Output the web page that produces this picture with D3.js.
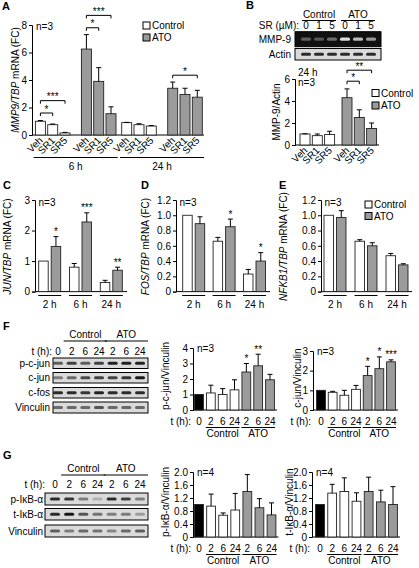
<!DOCTYPE html>
<html><head><meta charset="utf-8">
<script src="https://cdn.jsdelivr.net/npm/d3@7"></script>
<style>body{margin:0;background:#fff} svg text{font-family:"Liberation Sans",Arial,Helvetica,sans-serif;}</style>
</head><body>
<svg id="chart" width="419" height="568"></svg>
<script>
// ================= DATA =================
// Panel A
const aDrugs = ["Veh","SR1","SR5"];
const aTimes = ["6 h","24 h"];
const aTreats = ["Control","ATO"];
const aControl = [[1.0,0.75,0.15],[0.9,0.75,0.65]];
const aControlErr = [[0.05,0.05,0.04],[0.02,0.07,0.04]];
const aATO = [[6.25,3.9,1.55],[3.4,2.95,2.75]];
const aATOErr = [[1.05,1.0,0.5],[0.45,0.45,0.5]];
const aTicks = [0,2,4,6,8];
// [timeIndex, treatment, fromDrug, toDrug, height, label]
const aSig = [[0,"Control",0,1,1.6,"*"],[0,"Control",0,2,2.5,"***"],[0,"ATO",0,1,7.8,"*"],[0,"ATO",0,2,8.7,"***"],[1,"ATO",0,2,4.35,"*"]];
// Panel B
const bDrugs = ["Veh","SR1","SR5"];
const bTreats = ["Control","ATO"];
const bLaneLabels = ["0","1","5","0","1","5"];
const bControl = [1.0,0.85,0.95];
const bControlErr = [0.02,0.15,0.3];
const bATO = [4.3,2.5,1.5];
const bATOErr = [0.8,0.7,0.5];
const bTicks = [0,2,4,6];
const bSig = [["ATO",0,1,5.8,"*"],["ATO",0,2,6.8,"**"]];
const bMMP9Bands = [0.35,0.3,0.4,0.9,0.75,0.6];
const bActinBands = [0.85,0.85,0.85,0.85,0.85,0.85];
// Panels C, D, E
const cdeTimes = ["2 h","6 h","24 h"];
const cControl = [1.0,0.8,0.3];
const cControlErr = [0,0.12,0.07];
const cATO = [1.48,2.28,0.7];
const cATOErr = [0.32,0.3,0.1];
const cStars = ["*","***","**"];
const cTicks = [0,1,2,3];
const dControl = [1.0,0.66,0.23];
const dControlErr = [0,0.05,0.06];
const dATO = [0.89,0.85,0.4];
const dATOErr = [0.09,0.1,0.11];
const dStars = ["","*","*"];
const eControl = [1.0,0.66,0.47];
const eControlErr = [0,0.02,0.03];
const eATO = [0.97,0.6,0.35];
const eATOErr = [0.09,0.04,0.015];
const eStars = ["","",""];
const deTicks = [0,0.2,0.4,0.6,0.8,1.0,1.2];
// Panels F, G
const fgLanes = ["0","2","6","24","2","6","24"];
const fgLaneGroup = ["base","Control","Control","Control","ATO","ATO","ATO"];
const fPcjun = [1.0,1.1,1.0,1.3,2.45,2.85,1.95];
const fPcjunErr = [0,0.5,0.38,0.65,0.55,0.75,0.35];
const fPcjunStars = ["","","","","*","**",""];
const fPcjunTicks = [0,1,2,3,4];
const fCjun = [1.0,0.9,0.75,1.05,1.75,2.1,2.45];
const fCjunErr = [0,0.05,0.25,0.2,0.47,0.6,0.1];
const fCjunStars = ["","","","","*","*","***"];
const fCjunTicks = [0,1,2,3];
const gPikb = [1.0,0.95,0.67,0.83,1.4,0.9,0.68];
const gPikbErr = [0,0.37,0.07,0.51,0.52,0.28,0.37];
const gTikb = [1.0,1.35,1.4,1.1,1.4,1.08,1.0];
const gTikbErr = [0,0.27,0.42,0.26,0.44,0.36,0.55];
const gTicks = [0,0.4,0.8,1.2,1.6,2.0];
const fBlotRows = ["p-c-jun","c-jun","c-fos","Vinculin"];
const fBlotBands = [[0.6,0.75,0.6,0.75,0.9,0.9,0.9],[0.45,0.55,0.7,0.75,0.75,0.8,0.95],[0.85,0.85,0.8,0.9,0.85,0.85,0.85],[0.55,0.55,0.55,0.65,0.55,0.55,0.55]];
const gBlotRows = ["p-IκB-α","t-IκB-α","Vinculin"];
const gBlotBands = [[0.85,0.8,0.45,0.2,0.85,0.75,0.45],[0.85,0.95,0.65,0.5,0.45,0.45,0.3],[0.6,0.45,0.55,0.5,0.4,0.55,0.6]];

// ================= HELPERS =================
const FONT = '"Liberation Sans", Arial, Helvetica, sans-serif';
const GRAY = "#9b9b9b";
const STROKE = "#222";
const svg = d3.select("#chart");
const defs = svg.append("defs");
defs.append("filter").attr("id","blur").attr("x","-50%").attr("y","-100%").attr("width","200%").attr("height","300%")
  .append("feGaussianBlur").attr("stdDeviation",0.7);

function txt(x, y, s, o = {}) {
  return svg.append("text").attr("x", x).attr("y", y).text(s)
    .attr("font-size", o.size || 10).attr("text-anchor", o.anchor || "start")
    .attr("font-weight", o.weight || "normal").attr("fill", "#000");
}
function yTitle(x, y, italic, rest, size) {
  const t = svg.append("text").attr("transform", `translate(${x},${y}) rotate(-90)`)
    .attr("text-anchor", "middle").attr("font-size", size || 10).attr("fill", "#000");
  if (italic) t.append("tspan").attr("font-style", "italic").text(italic);
  t.append("tspan").text(rest);
}
function leftAxis(x0, y, ticks, fmt) {
  const g = svg.append("g").attr("transform", `translate(${x0},0)`)
    .call(d3.axisLeft(y).tickValues(ticks).tickSize(3).tickPadding(2).tickFormat(fmt || d3.format("d")));
  g.attr("font-family", FONT).attr("font-size", 10);
  g.selectAll("text").attr("fill", "#000");
  g.selectAll("line").attr("stroke", "#000");
  g.select(".domain").attr("stroke", "#000");
}
function hLine(x0, x1, y, w = 1) {
  svg.append("line").attr("x1", x0).attr("x2", x1).attr("y1", y).attr("y2", y).attr("stroke", "#000").attr("stroke-width", w);
}
function bar(cx, w, y, v, e, fill) {
  svg.append("rect").attr("x", cx - w / 2).attr("y", y(v)).attr("width", w).attr("height", y(0) - y(v))
    .attr("fill", fill).attr("stroke", STROKE).attr("stroke-width", 0.9);
  if (e > 0) {
    svg.append("line").attr("x1", cx).attr("x2", cx).attr("y1", y(v)).attr("y2", y(v + e)).attr("stroke", "#000");
    svg.append("line").attr("x1", cx - 2.5).attr("x2", cx + 2.5).attr("y1", y(v + e)).attr("y2", y(v + e)).attr("stroke", "#000");
  }
}
function star(cx, yTop, s) {
  if (s) txt(cx, yTop - 1.5, s, { anchor: "middle" });
}
function bracket(xa, xb, yy, label) {
  svg.append("path").attr("d", `M${xa},${yy + 3}V${yy}H${xb}V${yy + 3}`).attr("fill", "none").attr("stroke", "#000");
  txt((xa + xb) / 2, yy - 0.5, label, { anchor: "middle" });
}
function legend(x, y0, dy) {
  aTreats.forEach((t, i) => {
    svg.append("rect").attr("x", x).attr("y", y0 + i * dy).attr("width", 7).attr("height", 7)
      .attr("fill", t === "ATO" ? GRAY : "#fff").attr("stroke", "#000");
    txt(x + 9, y0 + i * dy + 7.3, t, { size: 10 });
  });
}
function rotLabel(cx, yy, s) {
  svg.append("text").attr("transform", `translate(${cx + 3},${yy}) rotate(-45)`).attr("text-anchor", "end")
    .attr("font-size", 10).attr("fill", "#000").text(s);
}
function blot(x0, x1, y0, y1, lanes, bands, dark) {
  svg.append("rect").attr("x", x0).attr("y", y0).attr("width", x1 - x0).attr("height", y1 - y0)
    .attr("fill", dark ? "#111" : "#dadada").attr("stroke", "#000").attr("stroke-width", 1);
  bands.forEach((b, i) => {
    svg.append("rect").attr("x", lanes(i) - 5).attr("y", (y0 + y1) / 2 - 1.6).attr("width", 10).attr("height", 3.2)
      .attr("rx", 1.5).attr("fill", dark ? "#f4f4f4" : "#111").attr("opacity", b).attr("filter", "url(#blur)");
  });
}

// ================= PANEL A =================
txt(2, 9.5, "A", { size: 11, weight: "bold" });
const yA = d3.scaleLinear().domain([0, 8]).range([135, 25]);
const xATime = d3.scalePoint().domain(aTimes).range([75.7, 162]);
const xATreat = d3.scalePoint().domain(aTreats).range([-23, 23]);
const xADrug = d3.scalePoint().domain(aDrugs).range([-12.3, 12.3]);
const aX = (ti, tr, di) => xATime(aTimes[ti]) + xATreat(tr) + xADrug(aDrugs[di]);
leftAxis(32, yA, aTicks);
hLine(32, 204, yA(0));
aTimes.forEach((t, ti) => {
  aDrugs.forEach((d, di) => {
    bar(aX(ti, "Control", di), 10, yA, aControl[ti][di], aControlErr[ti][di], "#fff");
    bar(aX(ti, "ATO", di), 10, yA, aATO[ti][di], aATOErr[ti][di], GRAY);
    rotLabel(aX(ti, "Control", di), 141, d);
    rotLabel(aX(ti, "ATO", di), 141, d);
  });
  hLine(xATime(t) - 42, xATime(t) + 42, 157.5);
  txt(xATime(t), 170, t, { anchor: "middle" });
});
aSig.forEach(s => bracket(aX(s[0], s[1], s[2]), aX(s[0], s[1], s[3]), yA(s[4]), s[5]));
txt(36, 30, "n=3");
legend(143, 22, 12);
yTitle(18.5, 80, "MMP9/TBP", " mRNA (FC)");

// ================= PANEL B =================
txt(246, 9, "B", { size: 11, weight: "bold" });
const xBTreat = d3.scalePoint().domain(bTreats).range([317.3, 359.3]);
const xBDrug = d3.scalePoint().domain(bDrugs).range([-12.3, 12.3]);
const bLane = d3.scalePoint().domain(d3.range(bLaneLabels.length)).range([306, 371]);
bTreats.forEach(t => {
  const c = (bLane(t === "ATO" ? 3 : 0) + bLane(t === "ATO" ? 5 : 2)) / 2;
  txt(c, 17.5, t, { anchor: "middle" });
  hLine(c - 17, c + 17, 20.5);
});
txt(299, 29, "SR (µM):", { anchor: "end" });
bLaneLabels.forEach((l, i) => txt(bLane(i), 29, l, { anchor: "middle" }));
blot(295, 381, 31.7, 46.7, bLane, bMMP9Bands, true);
blot(295, 381, 48.5, 60, bLane, bActinBands, false);
txt(291, 43, "MMP-9", { anchor: "end" });
txt(291, 57.5, "Actin", { anchor: "end" });
const yB = d3.scaleLinear().domain([0, 6]).range([145, 79]);
leftAxis(295, yB, bTicks);
hLine(295, 379, yB(0));
bDrugs.forEach((d, di) => {
  const xc = xBTreat("Control") + xBDrug(d), xa = xBTreat("ATO") + xBDrug(d);
  bar(xc, 10, yB, bControl[di], bControlErr[di], "#fff");
  bar(xa, 10, yB, bATO[di], bATOErr[di], GRAY);
  rotLabel(xc, 151, d);
  rotLabel(xa, 151, d);
});
bSig.forEach(s => bracket(xBTreat(s[0]) + xBDrug(bDrugs[s[1]]), xBTreat(s[0]) + xBDrug(bDrugs[s[2]]), yB(s[3]), s[4]));
txt(298, 75.5, "24 h");
txt(298, 86, "n=3");
legend(372, 89.5, 12.5);
yTitle(280, 112, null, "MMP-9/Actin");

// ================= PANELS C, D, E =================
function timePanel(o) {
  txt(o.letterX, 189, o.letter, { size: 11, weight: "bold" });
  const y = d3.scaleLinear().domain([0, o.ticks[o.ticks.length - 1]]).range([291.6, 200]);
  const xg = d3.scalePoint().domain(cdeTimes).range(o.range);
  const xt = d3.scalePoint().domain(aTreats).range([-6.25, 6.25]);
  leftAxis(o.axisX, y, o.ticks, o.fmt);
  hLine(o.axisX, o.lineEnd, y(0));
  cdeTimes.forEach((t, i) => {
    bar(xg(t) + xt("Control"), 9.5, y, o.ctrl[i], o.ctrlErr[i], "#fff");
    bar(xg(t) + xt("ATO"), 9.5, y, o.ato[i], o.atoErr[i], GRAY);
    star(xg(t) + xt("ATO"), y(o.ato[i] + o.atoErr[i]), o.stars[i]);
    hLine(xg(t) - 11.5, xg(t) + 11.5, 295.5);
    txt(xg(t), 308, t, { anchor: "middle" });
  });
  txt(o.axisX + 3.5, 206, "n=3");
  yTitle(o.titleX, 246.5, o.italic, " mRNA (FC)");
}
const fmt1 = d => d === 0 ? "0" : d.toFixed(1);
timePanel({ letter: "C", letterX: 3, axisX: 35, lineEnd: 127, range: [49.7, 111.3], ticks: cTicks, fmt: d3.format("d"),
  ctrl: cControl, ctrlErr: cControlErr, ato: cATO, atoErr: cATOErr, stars: cStars, titleX: 11, italic: "JUN/TBP" });
timePanel({ letter: "D", letterX: 141, axisX: 176, lineEnd: 270, range: [193.7, 254.5], ticks: deTicks, fmt: fmt1,
  ctrl: dControl, ctrlErr: dControlErr, ato: dATO, atoErr: dATOErr, stars: dStars, titleX: 148.5, italic: "FOS/TBP" });
timePanel({ letter: "E", letterX: 279, axisX: 321, lineEnd: 412, range: [335, 397], ticks: deTicks, fmt: fmt1,
  ctrl: eControl, ctrlErr: eControlErr, ato: eATO, atoErr: eATOErr, stars: eStars, titleX: 287, italic: "NFKB1/TBP" });
legend(365, 201, 11.5);

// ================= BLOTS F, G =================
function blotPanel(o) {
  txt(3, o.letterY, o.letter, { size: 11, weight: "bold" });
  const lane = d3.scalePoint().domain(d3.range(fgLanes.length)).range(o.laneRange);
  [["Control", 1, 3], ["ATO", 4, 6]].forEach(([t, a, b]) => {
    const c = (lane(a) + lane(b)) / 2;
    txt(c, o.headY, t, { anchor: "middle" });
    hLine(lane(a) - 8, lane(b) + 8, o.headY + 3.5);
  });
  txt(o.labelX + 2, o.tY, "t (h):", { anchor: "end" });
  fgLanes.forEach((l, i) => txt(lane(i), o.tY, l, { anchor: "middle" }));
  o.rows.forEach((r, i) => {
    const [y0, y1] = o.rowY[i];
    blot(o.boxX, 148, y0, y1, lane, o.bands[i], false);
    txt(o.labelX, (y0 + y1) / 2 + 3.5, r, { anchor: "end" });
  });
}
blotPanel({ letter: "F", letterY: 330, laneRange: [58, 140], headY: 337.5, tY: 355, labelX: 50, boxX: 53,
  rows: fBlotRows, bands: fBlotBands, rowY: [[358, 368.5], [372.5, 383], [387.5, 398], [402, 413]] });
blotPanel({ letter: "G", letterY: 459, laneRange: [55, 140], headY: 471.5, tY: 488, labelX: 43, boxX: 45,
  rows: gBlotRows, bands: gBlotBands, rowY: [[493, 505], [508.5, 520], [525, 537]] });

// ================= F, G quantification =================
function laneChart(o) {
  const y = d3.scaleLinear().domain([0, o.ticks[o.ticks.length - 1]]).range([o.y0, o.yTop]);
  const x = d3.scalePoint().domain(d3.range(fgLanes.length)).range(o.range);
  leftAxis(o.axisX, y, o.ticks, o.fmt);
  hLine(o.axisX, o.range[1] + 7, y(0));
  fgLanes.forEach((l, i) => {
    const fill = fgLaneGroup[i] === "base" ? "#000" : fgLaneGroup[i] === "ATO" ? GRAY : "#fff";
    bar(x(i), 8.8, y, o.vals[i], o.errs[i], fill);
    if (o.stars) star(x(i), y(o.vals[i] + o.errs[i]), o.stars[i]);
    txt(x(i), o.y0 + 14.5, l, { anchor: "middle" });
  });
  txt(o.axisX - 2, o.y0 + 14.5, "t (h):", { anchor: "end" });
  [["Control", 1, 3], ["ATO", 4, 6]].forEach(([t, a, b]) => {
    hLine(x(a) - 5, x(b) + 5, o.y0 + 17.5);
    txt((x(a) + x(b)) / 2, o.y0 + 27, t, { anchor: "middle" });
  });
  txt(o.axisX + 4, o.yTop + 3.5, o.n);
  yTitle(o.titleX, o.titleY, null, o.title);
}
laneChart({ axisX: 193, y0: 410, yTop: 348, range: [199, 270], ticks: fPcjunTicks, vals: fPcjun, errs: fPcjunErr,
  stars: fPcjunStars, n: "n=3", title: "p-c-jun/Vinculin", titleX: 168.5, titleY: 376 });
laneChart({ axisX: 313, y0: 410, yTop: 351, range: [321, 391], ticks: fCjunTicks, vals: fCjun, errs: fCjunErr,
  stars: fCjunStars, n: "n=3", title: "c-jun/Vinculin", titleX: 301, titleY: 378 });
laneChart({ axisX: 193, y0: 537, yTop: 472, range: [199, 271.5], ticks: gTicks, fmt: fmt1, vals: gPikb, errs: gPikbErr,
  n: "n=4", title: "p-IκB-α/Vinculin", titleX: 168.5, titleY: 502 });
laneChart({ axisX: 312, y0: 537, yTop: 472, range: [320, 393], ticks: gTicks, fmt: fmt1, vals: gTikb, errs: gTikbErr,
  n: "n=4", title: "t-IκB-α/Vinculin", titleX: 292.5, titleY: 502 });
</script>
</body></html>
